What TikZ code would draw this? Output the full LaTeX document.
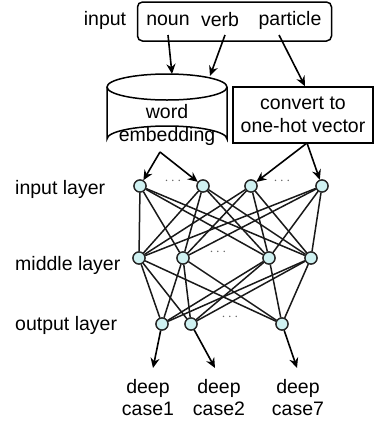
\documentclass[tikz,border=0pt]{standalone}
\usepackage{fontspec}
\setmainfont{Liberation Sans}
\usetikzlibrary{arrows.meta}
\definecolor{unitfill}{HTML}{CFF1F1}
\tikzset{
  lbl/.style={inner sep=0pt, font=\fontsize{19.5}{22}\selectfont},
  unit/.style={circle, draw=black!85, fill=unitfill, line width=1.3pt, minimum size=12pt, inner sep=0pt},
  link/.style={line width=1.5pt, black!90},
  arr/.style={line width=1.6pt, -{Stealth[length=10pt,width=9pt]}},
  dots/.style={inner sep=0pt, font=\fontsize{14}{14}\selectfont, text=black!60},
}
\begin{document}
\begin{tikzpicture}[x=1pt, y=-1pt]
\useasboundingbox (0,0) rectangle (374,421);

% input word classes
\node[draw, rounded corners=5pt, line width=1.5pt, minimum width=194pt, minimum height=39pt, inner sep=0pt] (inbox) at (234.5,21.5) {};
\node[lbl] (input) at (105,20) {input};
\node[lbl] (noun) at (168,20) {noun};
\node[lbl] (verb) at (220,20) {verb};
\node[lbl] (particle) at (290,20) {particle};
\coordinate (nounS) at (168,35);
\coordinate (verbS) at (225,35);
\coordinate (partS) at (279,35);

% word embedding (cylinder)
\draw[line width=1.5pt, fill=white] (107,87) -- (107,139) arc[start angle=180, end angle=360, x radius=60, y radius=13] -- (227,87);
\draw[line width=1.5pt] (167,87) ellipse[x radius=60, y radius=13];
\node[lbl] (word) at (167,112) {word};
\node[lbl] (emb) at (167,136) {embedding};
\coordinate (embTop1) at (172,74);
\coordinate (embTop2) at (210,76);
\coordinate (embBot) at (160,152);

% one-hot conversion
\node[draw, line width=1.5pt, minimum width=140pt, minimum height=56pt, inner sep=0pt, align=center, font=\fontsize{19.5}{23}\selectfont] (conv) at (303,115) {convert to\\one-hot vector};
\coordinate (convBot) at (307,143);

% arrows into the embedding and conversion
\draw[arr] (nounS) -- (embTop1);
\draw[arr] (verbS) -- (embTop2);
\draw[arr] (partS) -- (conv.north -| 305,0);

% layer labels
\node[lbl, anchor=west] (linput) at (15,189) {input layer};
\node[lbl, anchor=west] (lmid) at (15,265) {middle layer};
\node[lbl, anchor=west] (lout) at (15,325) {output layer};

% unit positions
\node[unit] (i1) at (140,186) {};
\node[unit] (i2) at (203,186) {};
\node[unit] (i3) at (251,186) {};
\node[unit] (i4) at (322,186) {};
\node[unit] (m1) at (139,258) {};
\node[unit] (m2) at (183,258) {};
\node[unit] (m3) at (269,258) {};
\node[unit] (m4) at (311,258) {};
\node[unit] (o1) at (162,324) {};
\node[unit] (o2) at (191,324) {};
\node[unit] (o3) at (282,324) {};

\node[dots] (d1) at (173,181) {$\cdots$};
\node[dots] (d2) at (282,181) {$\cdots$};
\node[dots] (d3) at (218,252) {$\cdots$};
\node[dots] (d4) at (230,317) {$\cdots$};

% arrows into the input layer
\draw[arr] (embBot) -- (i1);
\draw[arr] (embBot) -- (i2);
\draw[arr] (convBot) -- (i3);
\draw[arr] (convBot) -- (i4);

% full connections between layers
\foreach \a in {i1,i2,i3,i4}
  \foreach \b in {m1,m2,m3,m4}
    \draw[link] (\a) -- (\b);
\foreach \a in {m1,m2,m3,m4}
  \foreach \b in {o1,o2,o3}
    \draw[link] (\a) -- (\b);

% redraw units over the connections
\foreach \x/\y in {140/186,203/186,251/186,322/186,139/258,183/258,269/258,311/258,162/324,191/324,282/324}
  \node[unit] at (\x,\y) {};

% outputs
\node[lbl, align=center] (c1) at (148,398) {deep\\case1};
\node[lbl, align=center] (c2) at (219,398) {deep\\case2};
\node[lbl, align=center] (c7) at (298,398) {deep\\case7};
\coordinate (t1) at (153,368);
\coordinate (t2) at (215,368);
\coordinate (t7) at (297,368);
\draw[arr] (o1) -- (t1);
\draw[arr] (o2) -- (t2);
\draw[arr] (o3) -- (t7);
\end{tikzpicture}
\end{document}
